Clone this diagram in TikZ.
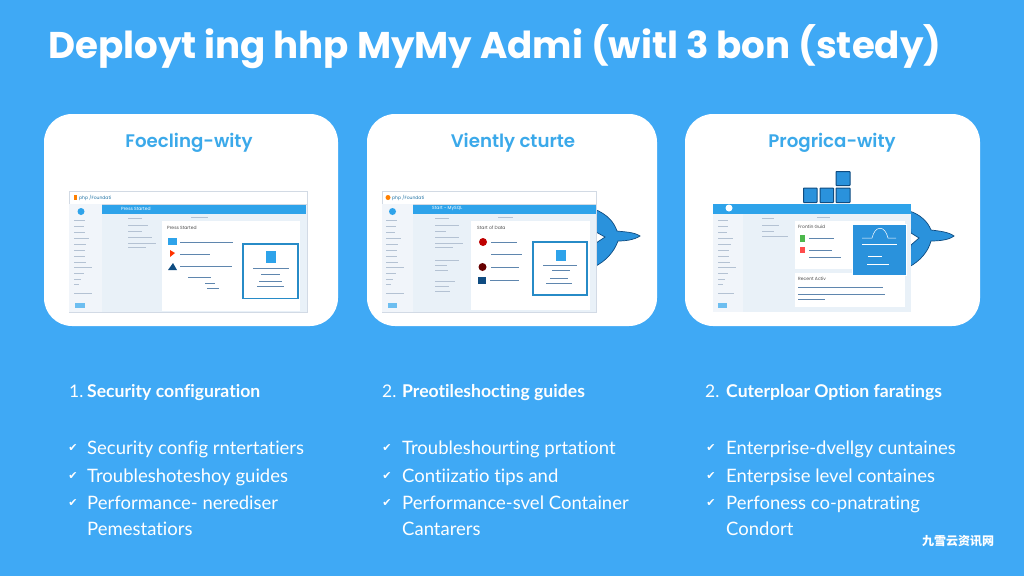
\documentclass[tikz,border=0pt]{standalone}
\usepackage{fontspec}
\setmainfont{Poppins}
\newfontfamily\cardfont{Poppins SemiBold}
\newfontfamily\listfont[Ligatures=NoCommon]{Lato}
\newfontfamily\checkfont{DejaVu Sans}
\newfontfamily\cjk{Noto Sans CJK SC}
\definecolor{sky}{HTML}{3FA9F5}
\definecolor{cardtitle}{HTML}{3BA9EA}
\definecolor{barblue}{HTML}{2EA3EA}
\definecolor{uibg}{HTML}{E9F1F8}
\definecolor{uiside}{HTML}{F1F5FA}
\definecolor{uiline}{HTML}{B4C2D3}
\definecolor{uiink}{HTML}{5F86AE}
\definecolor{whale}{HTML}{2A92DC}
\definecolor{whaleline}{HTML}{0F4C81}
\tikzset{
    card/.style={fill=white, rounded corners=28pt},
    screen/.style={fill=uibg, draw=uiline!60, line width=0.4pt},
    topbar/.style={fill=barblue},
    panel/.style={fill=white},
    popup/.style={fill=white, draw=barblue!85!black, line width=1.2pt},
    txtbar/.style={draw=uiline, line width=0.9pt},
    bluebar/.style={draw=uiink, line width=0.8pt},
    uitext/.style={anchor=west, inner sep=0, font=\fontsize{4.5}{5}\selectfont, text=black!70},
    heading/.style={anchor=base west, inner sep=0, text=white, font=\listfont\bfseries\fontsize{17.6}{19}\selectfont},
    number/.style={anchor=base west, inner sep=0, text=white, font=\listfont\fontsize{17.4}{19}\selectfont},
    item/.style={anchor=base west, inner sep=0, text=white, font=\listfont\fontsize{18.5}{21}\selectfont},
    tick/.style={anchor=center, inner sep=0, text=white, font=\checkfont\fontsize{11}{11}\selectfont},
    cardhead/.style={anchor=base, inner sep=0, text=cardtitle, font=\cardfont\fontsize{18.2}{22}\selectfont},
    whalebody/.style={fill=whale, draw=whaleline, line width=0.7pt},
    cargo/.style={fill=whale, draw=whaleline, line width=1pt, rounded corners=0.6pt}
}
\begin{document}
\begin{tikzpicture}[x=1pt, y=-1pt]
    \fill[sky] (0,0) rectangle (1024,576);
    \useasboundingbox (0,0) rectangle (1024,576);

    \node[anchor=base west, inner sep=0, text=white, font=\fontsize{37.2}{40}\selectfont\bfseries] (title) at (48,58) {Deployt ing hhp MyMy Admi (witl 3 bon (stedy)};

    % cards
    \fill[card] (44,114) rectangle (338,326);
    \fill[card] (367,114) rectangle (657,326);
    \fill[card] (685,114) rectangle (980,326);
    \node[cardhead] (head1) at (189,147) {Foecling-wity};
    \node[cardhead] (head2) at (513,147) {Viently cturte};
    \node[cardhead] (head3) at (832,147) {Progrica-wity};

    % whale tails behind the screens
    \draw[whalebody] (594,209) .. controls (607,214) and (614,222) .. (617,231) .. controls (625,232) and (634,232) .. (640,236)
        .. controls (634,240) and (625,241) .. (618,241) .. controls (614,252) and (606,261) .. (594,267)
        -- (596,243) -- (605,237) -- (596,232) -- cycle;
    \draw[whalebody] (909,211) .. controls (920,214) and (928,222) .. (931,230) .. controls (939,231) and (949,232) .. (954,236)
        .. controls (949,240) and (939,241) .. (931,241) .. controls (928,252) and (920,261) .. (909,267)
        -- (911,245) -- (919,238) -- (911,233) -- cycle;

    % screen 1
    \fill[white] (69,191) rectangle (307,204);
    \draw[screen] (69,204) rectangle (307,312);
    \draw[uiline!60, line width=0.4pt] (69,191) rectangle (307,204);
    \fill[uiside] (69.3,204.3) rectangle (101.5,311.7);
    \fill[topbar] (101.5,204.5) rectangle (306,213.5);
    \fill[panel] (162,221) rectangle (300,311);
    \fill[orange] (74,195) rectangle (77,200);
    \node[uitext, text=barblue!70!black] (logo1) at (79,197.5) {php /Foundati};
    \fill[barblue] (81,211.5) circle (3.5);
    \node[uitext, text=white] (bar1) at (121,208.5) {Press Started};
    \foreach \yy/\ww in {220/11,226/10,232/11,238/15,244/12,250/11,256/11,262/12,267/18,273/10,279/7,284/5}
        \draw[txtbar] (74,\yy) -- ++(\ww,0);
    \draw[txtbar] (74,293) -- ++(18,0);
    \fill[barblue!70] (75,303) rectangle (85,308);
    \foreach \yy/\ww in {218/14,225/20,231/14,237/24,243/28,247/18}
        \draw[txtbar] (128,\yy) -- ++(\ww,0);
    \draw[txtbar] (191,217) -- ++(17,0);
    \node[uitext] (start1) at (167,228) {Press Started};
    \fill[barblue] (168,238) rectangle (177,245);
    \draw[bluebar] (180,242) -- ++(53,0);
    \fill[red!60!orange] (170,250) -- (175,253) -- (170,257) -- cycle;
    \draw[bluebar] (180,254) -- ++(30,0);
    \fill[whaleline] (168,270) -- (173,263) -- (177,270) -- cycle;
    \draw[bluebar] (180,266) -- ++(52,0);
    \foreach \xx/\yy/\ww in {188/277/23,205/283/10,207/288/12}
        \draw[bluebar] (\xx,\yy) -- ++(\ww,0);
    \draw[popup] (243,244) rectangle (298,298.5);
    \fill[barblue] (266,251) rectangle (276,263);
    \foreach \xx/\yy/\ww in {253/268/36,261/274/19,259/281/23,257/286/27}
        \draw[bluebar] (\xx,\yy) -- ++(\ww,0);

    % screen 2
    \fill[white] (382,191) rectangle (596,204);
    \draw[screen] (382,204) rectangle (596,312);
    \draw[uiline!60, line width=0.4pt] (382,191) rectangle (596,204);
    \fill[uiside] (382.3,204.3) rectangle (413,311.7);
    \fill[topbar] (413,204.5) rectangle (595.5,213.5);
    \fill[panel] (471,221) rectangle (590,310);
    \fill[orange] (388,197.5) circle (2.5);
    \node[uitext, text=barblue!70!black] (logo2) at (392,197.5) {php /Foundati};
    \fill[barblue] (392.5,211.5) circle (3.5);
    \node[uitext, text=white] (bar2) at (432,208.5) {Start - MySQL};
    \foreach \yy/\ww in {220/11,226/10,232/9,238/15,244/12,250/11,256/11,262/12,267/18,273/10,279/7,284/5}
        \draw[txtbar] (386,\yy) -- ++(\ww,0);
    \draw[txtbar] (386,293) -- ++(18,0);
    \fill[barblue!70] (388,303) rectangle (397,308);
    \foreach \yy/\ww in {218/14,225/24,231/11,237/24,243/28,247/18,260/24,265/12,270/13,281/20,286/14,291/15}
        \draw[txtbar] (435,\yy) -- ++(\ww,0);
    \draw[txtbar] (498,217) -- ++(15,0);
    \node[uitext] (start2) at (477,228) {Start of Data};
    \fill[red!75!black] (483,242) circle (4);
    \draw[bluebar] (491,242) -- ++(26,0);
    \draw[bluebar] (491,254) -- ++(31,0);
    \fill[red!40!black] (482.5,267) circle (4);
    \draw[bluebar] (491,267) -- ++(28,0);
    \fill[whaleline] (478,277) rectangle (486,284);
    \draw[bluebar] (490,280) -- ++(29,0);
    \draw[popup] (533,242) rectangle (587,295);
    \fill[barblue] (556,250) rectangle (566,261);
    \foreach \xx/\yy/\ww in {543/265/34,552/270/18,550/278/18,546/283/26}
        \draw[bluebar] (\xx,\yy) -- ++(\ww,0);

    % screen 3
    \fill[uibg] (713,204) rectangle (911,312);
    \fill[uiside] (713,213.5) rectangle (743,312);
    \fill[topbar] (713,204) rectangle (911,213.5);
    \fill[panel] (795,221) rectangle (905,269);
    \fill[panel] (795,273) rectangle (905,307);
    \fill[white] (729,208) circle (3.5);
    \foreach \yy/\ww in {220/10,226/10,232/9,238/15,244/13,250/11,256/11,262/12,267/18,273/10,279/7,284/5}
        \draw[txtbar] (718,\yy) -- ++(\ww,0);
    \draw[txtbar] (718,293) -- ++(16,0);
    \fill[barblue!70] (718,303) rectangle (727,308);
    \foreach \yy/\ww in {218/12,225/17,231/12,236/26}
        \draw[txtbar] (762,\yy) -- ++(\ww,0);
    \draw[txtbar] (817,217) -- ++(13,0);
    \node[uitext] (start3) at (798,227) {Frontin Guid};
    \fill[green!60!black!70] (800,235) rectangle (805,242);
    \draw[bluebar] (809,238.5) -- ++(25,0);
    \fill[red!70] (800,247) rectangle (805,253);
    \draw[bluebar] (809,250) -- ++(23,0);
    \draw[bluebar] (809,257) -- ++(32,0);
    \node[uitext] (recent3) at (798,279) {Recent Activ};
    \foreach \yy/\ww in {287/85,294/87,299/27}
        \draw[bluebar] (798,\yy) -- ++(\ww,0);
    \draw[fill=whale, draw=white, line width=1pt] (852,224) rectangle (906,275.5);
    \foreach \xx/\yy/\ww in {862/244/35,868/256/14,867/264/22}
        \draw[white, line width=0.9pt] (\xx,\yy) -- ++(\ww,0);
    \draw[white, line width=0.5pt] (862,238) -- (872,238) .. controls (875,225) and (885,225) .. (888,238) -- (896,238);

    % cargo on top of the third screen
    \draw[cargo] (803.5,188) rectangle (817,202.5);
    \draw[cargo] (820,188) rectangle (833.5,202.5);
    \draw[cargo] (836,188) rectangle (850,202.5);
    \draw[cargo] (836,171.5) rectangle (850,185.5);

    % list 1
    \node[number] (num1) at (69,397) {1.};
    \node[heading] (list1) at (87,397) {Security configuration};
    \foreach \yy/\nm/\txt in {454/a/Security config rntertatiers,482/b/Troubleshoteshoy guides,509/c/Performance- nerediser}{
        \node[tick] (tick1\nm) at (73,\yy-6) {✔};
        \node[item] (item1\nm) at (87,\yy) {\txt};
    }
    \node[item] (item1d) at (87,535) {Pemestatiors};

    % list 2
    \node[number] (num2) at (382,397) {2.};
    \node[heading] (list2) at (402,397) {Preotileshocting guides};
    \foreach \yy/\nm/\txt in {454/a/Troubleshourting prtationt,482/b/Contiizatio tips and,509/c/Performance-svel Container}{
        \node[tick] (tick2\nm) at (387,\yy-6) {✔};
        \node[item] (item2\nm) at (402,\yy) {\txt};
    }
    \node[item] (item2d) at (402,535) {Cantarers};

    % list 3
    \node[number] (num3) at (705,397) {2.};
    \node[heading] (list3) at (726,397) {Cuterploar Option faratings};
    \foreach \yy/\nm/\txt in {454/a/Enterprise-dvellgy cuntaines,482/b/Enterpsise level containes,509/c/Perfoness co-pnatrating}{
        \node[tick] (tick3\nm) at (711,\yy-6) {✔};
        \node[item] (item3\nm) at (726,\yy) {\txt};
    }
    \node[item] (item3d) at (726,535) {Condort};

    \node[inner sep=0, text=white, font=\cjk\bfseries\fontsize{12}{12}\selectfont] (mark) at (958,541) {九雪云资讯网};
\end{tikzpicture}
\end{document}
